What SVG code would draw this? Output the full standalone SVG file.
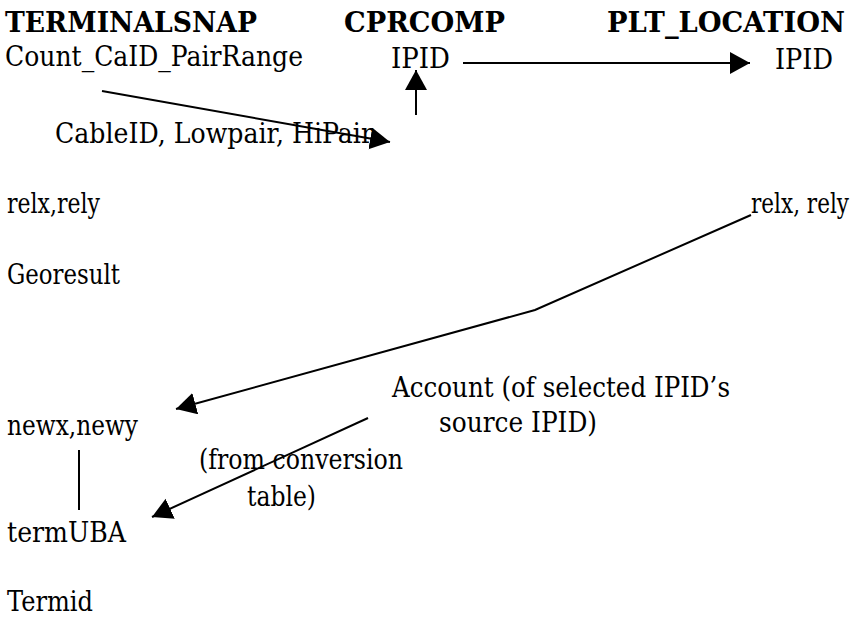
<svg xmlns="http://www.w3.org/2000/svg" width="856" height="617" viewBox="0 0 856 617">
<style>
text{font-family:"DejaVu Serif",serif;font-size:27.5px;fill:#000}
.h{font-weight:bold;font-size:28px}
.c{fill:none;stroke:#000;stroke-width:2}
</style>
<defs>
<marker id="ah" markerUnits="userSpaceOnUse" markerWidth="22" markerHeight="24" refX="20" refY="11" orient="auto">
<path d="M0,0 L20,11 L0,22 z" fill="#000"/>
</marker>
</defs>
<rect width="856" height="617" fill="#fff"/>
<g id="terminalsnap">
<text class="h" x="5" y="32" textLength="252" lengthAdjust="spacingAndGlyphs">TERMINALSNAP</text>
<text x="5" y="66" textLength="298" lengthAdjust="spacingAndGlyphs">Count_CaID_PairRange</text>
<text x="55" y="143" textLength="318" lengthAdjust="spacingAndGlyphs">CableID, Lowpair, HiPair</text>
<text x="7" y="213" textLength="93" lengthAdjust="spacingAndGlyphs">relx,rely</text>
<text x="7" y="284" textLength="113" lengthAdjust="spacingAndGlyphs">Georesult</text>
<text x="7" y="435" textLength="131" lengthAdjust="spacingAndGlyphs">newx,newy</text>
<text x="7" y="542" textLength="119" lengthAdjust="spacingAndGlyphs">termUBA</text>
<text x="7" y="611" textLength="86" lengthAdjust="spacingAndGlyphs">Termid</text>
</g>
<g id="cprcomp">
<text class="h" x="344" y="32" textLength="161" lengthAdjust="spacingAndGlyphs">CPRCOMP</text>
<text x="391" y="68" textLength="59" lengthAdjust="spacingAndGlyphs">IPID</text>
</g>
<g id="plt_location">
<text class="h" x="607" y="32" textLength="238" lengthAdjust="spacingAndGlyphs">PLT_LOCATION</text>
<text x="775" y="69" textLength="58" lengthAdjust="spacingAndGlyphs">IPID</text>
<text x="751" y="213" textLength="98" lengthAdjust="spacingAndGlyphs">relx, rely</text>
</g>
<g id="account">
<text x="392" y="397" textLength="338" lengthAdjust="spacingAndGlyphs">Account (of selected IPID’s</text>
<text x="439" y="432" textLength="158" lengthAdjust="spacingAndGlyphs">source IPID)</text>
</g>
<g id="conversion">
<text x="199" y="469" textLength="204" lengthAdjust="spacingAndGlyphs">(from conversion</text>
<text x="247" y="506" textLength="69" lengthAdjust="spacingAndGlyphs">table)</text>
</g>
<g id="connectors">
<line class="c" x1="102" y1="91" x2="390" y2="142" marker-end="url(#ah)"/>
<line class="c" x1="416" y1="115" x2="416" y2="70" marker-end="url(#ah)"/>
<line class="c" x1="463" y1="63" x2="750" y2="63" marker-end="url(#ah)"/>
<polyline class="c" points="751,215 535,310 176,409" marker-end="url(#ah)"/>
<line class="c" x1="368" y1="418" x2="152" y2="517" marker-end="url(#ah)"/>
<line class="c" x1="79" y1="450" x2="79" y2="510"/>
</g>
</svg>
